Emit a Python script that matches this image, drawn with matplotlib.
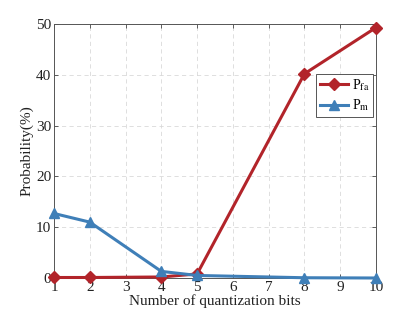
import numpy as np
import matplotlib
matplotlib.use("Agg")
import matplotlib.pyplot as plt

# ── Data ─────────────────────────────────────────────────────────────────────
bits = [1, 2, 4, 5, 8, 10]
p_fa = [0.1, 0.1, 0.2, 0.8, 40.2, 49.3]
p_m = [12.7, 11.0, 1.3, 0.5, 0.05, 0.0]
xticks = list(range(1, 11))
yticks = [0, 10, 20, 30, 40, 50]

# ── Plot ─────────────────────────────────────────────────────────────────────
plt.rcParams['font.family'] = ['Liberation Serif', 'DejaVu Serif']
plt.rcParams['mathtext.fontset'] = 'stix'

fig = plt.figure(figsize=(4.15, 3.13), dpi=100)
ax = fig.add_axes([54 / 415, 1 - 278 / 313, (376 - 54) / 415, (278 - 24) / 313])

red = '#B2242A'
blue = '#3F7FB8'
ax.plot(bits, p_fa, color=red, lw=2.2, marker='D', ms=6, label=r'P$_{\mathrm{fa}}$',
        clip_on=False, zorder=3)
ax.plot(bits, p_m, color=blue, lw=2.2, marker='^', ms=7, label=r'P$_{\mathrm{m}}$',
        clip_on=False, zorder=3)

ax.set_xlim(1, 10)
ax.set_ylim(0, 50)
ax.set_xticks(xticks)
ax.set_yticks(yticks)
ax.grid(True, ls=(0, (5, 4)), color='#d9d9d9', lw=0.6)
ax.set_axisbelow(True)
for s in ax.spines.values():
    s.set_color('#555555')
    s.set_linewidth(0.7)
ax.tick_params(direction='in', length=3, width=0.6, colors='#444444',
               labelsize=11, top=True, right=True, pad=2)
for lbl in ax.get_xticklabels() + ax.get_yticklabels():
    lbl.set_color('#222222')

ax.set_xlabel('Number of quantization bits', fontsize=11, labelpad=0, color='#222222')
ax.set_ylabel('Probability(%)', fontsize=11, labelpad=2, color='#222222')

leg = ax.legend(loc='upper right', bbox_to_anchor=(0.99, 0.805), fontsize=10,
                fancybox=False, edgecolor='#555555', framealpha=1,
                handlelength=2.0, borderpad=0.25, labelspacing=0.35,
                handletextpad=0.3, borderaxespad=0)
leg.get_frame().set_linewidth(0.7)

fig.savefig('out.png', dpi=100)
